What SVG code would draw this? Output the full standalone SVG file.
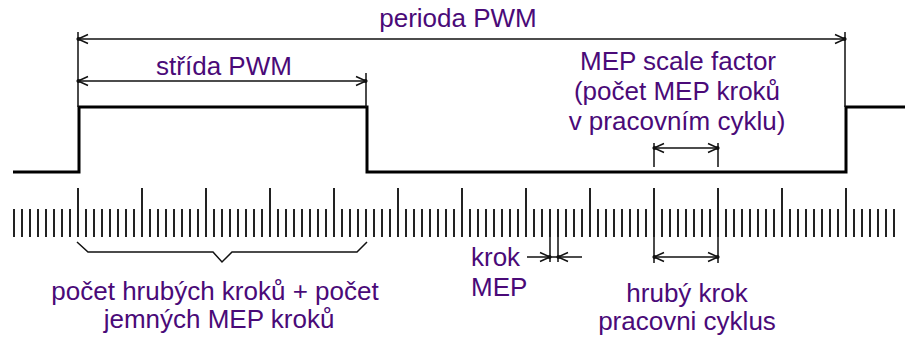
<svg xmlns="http://www.w3.org/2000/svg" width="905" height="341" viewBox="0 0 905 341">
<style>
.t{font-family:"Liberation Sans",Arial,sans-serif;font-size:26px;fill:#4a0a78}
.c{text-anchor:middle}
.w{fill:none;stroke:#000;stroke-width:3}
.l{fill:none;stroke:#111;stroke-width:1.5}
.a{fill:none;stroke:#111;stroke-width:1.5;marker-start:url(#ah);marker-end:url(#ah)}
.ae{fill:none;stroke:#111;stroke-width:1.5;marker-end:url(#ah)}
.as{fill:none;stroke:#111;stroke-width:1.5;marker-start:url(#ah)}
</style>
<defs>
<marker id="ah" viewBox="0 0 14 12" refX="12" refY="6" markerWidth="14" markerHeight="12" markerUnits="userSpaceOnUse" orient="auto-start-reverse">
<path d="M2 1.5L12 6L2 10.5" fill="none" stroke="#111" stroke-width="1.5"/>
<circle cx="11.5" cy="6" r="2" fill="#111"/>
</marker>
<pattern id="small" x="0" y="0" width="8" height="10" patternUnits="userSpaceOnUse">
<rect x="5" y="0" width="2" height="10" fill="#222"/>
</pattern>
<pattern id="tall" x="0" y="0" width="64" height="10" patternUnits="userSpaceOnUse">
<rect x="13" y="0" width="2" height="10" fill="#222"/>
</pattern>
</defs>
<g id="waveform">
<path class="w" d="M13 172H79V107H367V172H846V107H905"/>
</g>
<g id="scale">
<rect x="13" y="209" width="883" height="28" fill="url(#small)"/>
<rect x="77" y="188" width="771" height="21" fill="url(#tall)"/>
</g>
<g id="connectors">
<path class="l" d="M78 32V107M366 73V107M845 32V107M654 143V167M718 143V167M654 237V263M718 237V263M550 237V262M558 237V262M550 257H558"/>
<path class="a" d="M78 39H845"/>
<path class="a" d="M78 81H366"/>
<path class="a" d="M654 148H718"/>
<path class="a" d="M654 257H718"/>
<path class="ae" d="M527 257H550"/>
<path class="as" d="M558 257H582"/>
<path class="l" d="M77 242L88 252H213L222 262L232 252H357L367 242"/>
</g>
<g id="label-perioda"><text class="t c" x="458" y="27">perioda PWM</text></g>
<g id="label-strida"><text class="t c" x="224" y="75">střída PWM</text></g>
<g id="label-mep-scale">
<text class="t c" x="678" y="70">MEP scale factor</text>
<text class="t c" x="677" y="100">(počet MEP kroků</text>
<text class="t c" x="677" y="130">v pracovním cyklu)</text>
</g>
<g id="label-krok-mep">
<text class="t" x="471" y="266">krok</text>
<text class="t" x="471" y="296">MEP</text>
</g>
<g id="label-hruby">
<text class="t c" x="687" y="302">hrubý krok</text>
<text class="t c" x="687" y="330">pracovni cyklus</text>
</g>
<g id="label-pocet">
<text class="t c" x="215" y="300">počet hrubých kroků + počet</text>
<text class="t c" x="219" y="328">jemných MEP kroků</text>
</g>
</svg>
